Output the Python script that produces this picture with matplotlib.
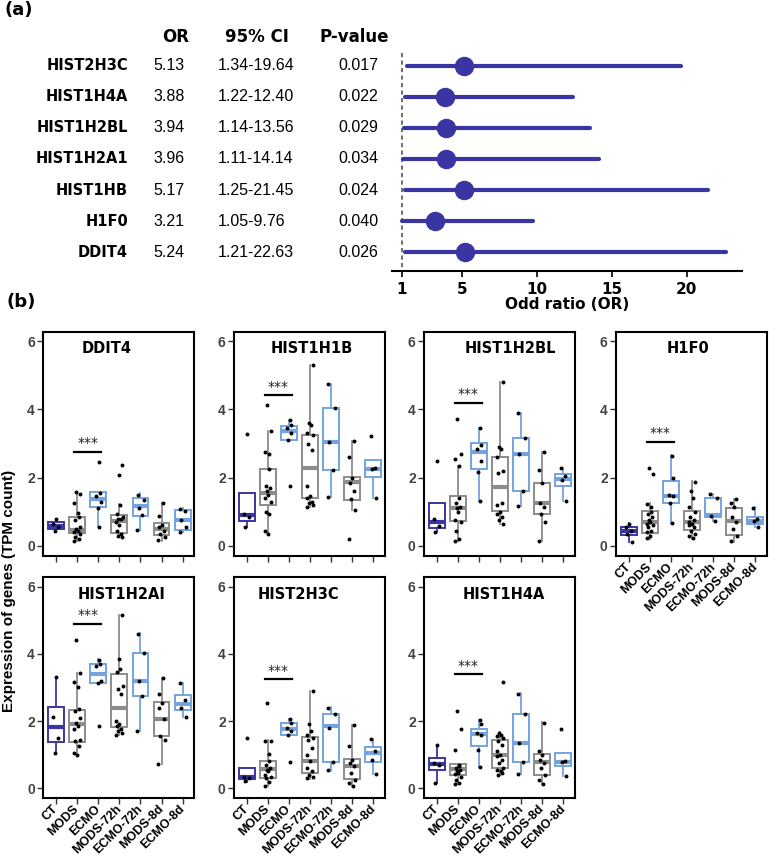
import matplotlib
matplotlib.use('Agg')
import matplotlib.pyplot as plt
from matplotlib import transforms

plt.rcParams['font.family'] = ['Liberation Sans', 'DejaVu Sans']

# ---------------- (a) forest plot data ----------------
genes_a = ['HIST2H3C', 'HIST1H4A', 'HIST1H2BL', 'HIST1H2A1', 'HIST1HB', 'H1F0', 'DDIT4']
or_vals = [5.13, 3.88, 3.94, 3.96, 5.17, 3.21, 5.24]
ci_low = [1.34, 1.22, 1.14, 1.11, 1.25, 1.05, 1.21]
ci_high = [19.64, 12.40, 13.56, 14.14, 21.45, 9.76, 22.63]
p_vals = ['0.017', '0.022', '0.029', '0.034', '0.024', '0.040', '0.026']
or_ticks = [1, 5, 10, 15, 20]

# ---------------- (b) box plot data ----------------
groups = ['CT', 'MODS', 'ECMO', 'MODS-72h', 'ECMO-72h', 'MODS-8d', 'ECMO-8d']
genes_b = ['DDIT4', 'HIST1H1B', 'HIST1H2BL', 'H1F0', 'HIST1H2AI', 'HIST2H3C', 'HIST1H4A']

# (whislo, q1, median, q3, whishi) per group
ddit4_box = [(0.43, 0.49, 0.59, 0.71, 0.78), (0.14, 0.39, 0.48, 0.85, 1.59), (0.56, 1.13, 1.39, 1.57, 1.57),
             (0.26, 0.39, 0.73, 0.90, 1.22), (0.48, 0.89, 1.17, 1.42, 1.54), (0.14, 0.33, 0.49, 0.66, 1.27),
             (0.41, 0.46, 0.77, 1.05, 1.10)]
ddit4_pts = [[0.78, 0.65, 0.55, 0.45],
             [1.58, 1.52, 1.25, 0.97, 0.85, 0.75, 0.55, 0.50, 0.45, 0.42, 0.35, 0.25, 0.20, 0.14],
             [2.47, 1.55, 1.45, 1.30, 1.10, 0.56],
             [2.37, 2.08, 1.20, 0.95, 0.85, 0.80, 0.78, 0.70, 0.60, 0.45, 0.35, 0.30, 0.27],
             [1.50, 1.35, 1.12, 0.92, 0.48],
             [1.27, 0.88, 0.62, 0.55, 0.45, 0.35, 0.25, 0.17],
             [1.07, 1.02, 0.75, 0.55, 0.41]]

hist1h1b_box = [(0.56, 0.74, 0.90, 1.54, 1.54), (0.36, 1.19, 1.56, 2.25, 3.38), (3.11, 3.11, 3.36, 3.52, 3.70),
                (1.13, 1.41, 2.29, 3.25, 5.31), (1.44, 2.23, 3.06, 4.04, 4.75), (1.05, 1.36, 1.88, 2.01, 3.09),
                (1.42, 2.03, 2.27, 2.52, 2.52)]
hist1h1b_pts = [[3.27, 0.95, 0.85, 0.55],
                [4.13, 3.38, 2.75, 2.70, 2.25, 1.75, 1.70, 1.60, 1.50, 1.40, 1.30, 1.00, 0.95, 0.45, 0.36],
                [3.68, 3.55, 3.45, 3.30, 3.10, 1.75],
                [5.30, 3.60, 3.55, 3.30, 3.25, 3.00, 2.80, 1.75, 1.45, 1.40, 1.30, 1.25, 1.20, 1.15],
                [4.75, 4.04, 3.06, 2.23, 1.44],
                [3.08, 2.62, 2.00, 1.85, 1.60, 1.38, 1.05, 0.20],
                [3.22, 2.28, 2.25, 1.42]]

hist1h2bl_box = [(0.41, 0.53, 0.69, 1.25, 1.25), (0.14, 0.74, 1.12, 1.47, 2.34), (1.31, 2.26, 2.74, 3.01, 3.45),
                 (0.63, 1.01, 1.74, 2.60, 4.80), (1.17, 1.62, 2.70, 3.16, 3.89), (0.15, 0.94, 1.27, 1.85, 2.76),
                 (1.31, 1.77, 1.95, 2.12, 2.29)]
hist1h2bl_pts = [[2.50, 0.80, 0.58, 0.41],
                 [3.72, 2.70, 2.55, 2.35, 1.42, 1.25, 1.15, 1.10, 1.00, 0.75, 0.70, 0.45, 0.20, 0.14],
                 [3.45, 2.95, 2.85, 2.50, 2.18, 1.31],
                 [4.80, 2.90, 2.85, 2.60, 2.20, 2.15, 1.25, 1.20, 1.00, 0.95, 0.85, 0.75, 0.63],
                 [3.89, 3.16, 2.70, 1.62, 1.17],
                 [2.76, 2.23, 1.85, 1.25, 1.15, 0.93, 0.70, 0.15],
                 [2.28, 2.05, 1.93, 1.31]]

h1f0_box = [(0.12, 0.33, 0.45, 0.56, 0.66), (0.19, 0.39, 0.69, 1.01, 1.25), (0.68, 1.27, 1.46, 1.89, 2.67),
            (0.19, 0.48, 0.71, 1.03, 1.90), (0.73, 0.85, 0.90, 1.41, 1.53), (0.12, 0.33, 0.73, 1.11, 1.38),
            (0.56, 0.64, 0.74, 0.85, 1.15)]
h1f0_pts = [[0.65, 0.55, 0.45, 0.35, 0.12],
            [2.28, 2.12, 1.22, 1.15, 1.00, 0.95, 0.85, 0.75, 0.70, 0.65, 0.60, 0.55, 0.45, 0.40, 0.30, 0.22],
            [2.65, 2.00, 1.50, 1.45, 1.25, 0.68],
            [1.88, 1.60, 1.42, 1.15, 1.00, 0.85, 0.75, 0.70, 0.65, 0.60, 0.55, 0.45, 0.35, 0.30, 0.22],
            [1.53, 1.42, 0.88, 0.73],
            [1.37, 1.25, 1.15, 0.85, 0.70, 0.50, 0.30, 0.15],
            [1.12, 0.80, 0.72, 0.56]]

hist1h2ai_box = [(1.04, 1.38, 1.81, 2.42, 3.31), (0.99, 1.37, 1.91, 2.34, 3.44), (3.13, 3.13, 3.41, 3.69, 3.85),
                 (1.58, 1.83, 2.40, 3.41, 5.17), (1.71, 2.74, 3.19, 4.03, 4.62), (0.72, 1.55, 2.06, 2.56, 3.29),
                 (2.12, 2.32, 2.52, 2.77, 3.13)]
hist1h2ai_pts = [[3.30, 2.12, 1.50, 1.04],
                 [4.40, 3.42, 3.15, 3.00, 2.35, 2.30, 2.10, 1.95, 1.85, 1.75, 1.45, 1.40, 1.25, 1.05, 1.00],
                 [3.83, 3.70, 3.65, 3.20, 3.13, 1.86],
                 [5.15, 3.85, 3.55, 3.45, 3.05, 2.95, 2.80, 2.00, 1.90, 1.85, 1.75, 1.70, 1.65, 1.60],
                 [4.60, 4.03, 3.20, 2.75, 1.71],
                 [3.28, 2.80, 2.55, 2.40, 2.05, 1.55, 1.45, 0.72],
                 [3.13, 2.62, 2.40, 2.12]]

hist2h3c_box = [(0.20, 0.27, 0.35, 0.61, 0.61), (0.07, 0.32, 0.56, 0.80, 1.43), (1.60, 1.60, 1.76, 1.93, 2.07),
                (0.28, 0.47, 0.82, 1.53, 2.91), (0.52, 0.77, 1.84, 2.20, 2.42), (0.07, 0.27, 0.67, 0.87, 1.88),
                (0.44, 0.77, 1.04, 1.22, 1.48)]
hist2h3c_pts = [[1.50, 0.35, 0.30, 0.22],
                [2.55, 1.42, 1.40, 1.02, 0.80, 0.70, 0.60, 0.55, 0.50, 0.40, 0.35, 0.30, 0.20, 0.07],
                [2.05, 1.95, 1.80, 1.70, 1.60, 0.77],
                [2.90, 1.92, 1.70, 1.60, 1.50, 1.45, 1.20, 1.00, 0.80, 0.60, 0.50, 0.40, 0.35, 0.30],
                [2.40, 2.20, 1.80, 0.78, 0.55],
                [1.87, 1.25, 0.85, 0.75, 0.65, 0.45, 0.25, 0.15, 0.07],
                [1.48, 1.12, 0.85, 0.44]]

hist1h4a_box = [(0.17, 0.54, 0.72, 0.91, 1.30), (0.12, 0.41, 0.56, 0.71, 0.71), (0.64, 1.25, 1.63, 1.76, 2.03),
                (0.40, 0.61, 0.99, 1.44, 1.68), (0.42, 0.79, 1.36, 2.22, 2.84), (0.12, 0.40, 0.77, 1.02, 1.96),
                (0.37, 0.66, 0.79, 1.04, 1.04)]
hist1h4a_pts = [[1.30, 0.75, 0.70, 0.17],
                [2.30, 1.75, 1.13, 0.70, 0.65, 0.60, 0.55, 0.50, 0.45, 0.42, 0.35, 0.25, 0.15, 0.12],
                [2.02, 1.90, 1.65, 1.60, 1.15, 0.64],
                [3.17, 1.65, 1.60, 1.55, 1.50, 1.40, 1.30, 1.10, 1.00, 0.95, 0.85, 0.75, 0.60, 0.55, 0.50, 0.45, 0.40],
                [2.80, 2.20, 1.36, 0.78, 0.42],
                [1.93, 1.12, 1.00, 0.85, 0.75, 0.60, 0.40, 0.25, 0.12],
                [1.77, 0.80, 0.78, 0.37]]

sig_heights = [2.76, 4.41, 4.20, 3.06, 4.90, 3.24, 3.39]
y_ticks = [0, 2, 4, 6]

box_data = [ddit4_box, hist1h1b_box, hist1h2bl_box, h1f0_box, hist1h2ai_box, hist2h3c_box, hist1h4a_box]
pts_data = [ddit4_pts, hist1h1b_pts, hist1h2bl_pts, h1f0_pts, hist1h2ai_pts, hist2h3c_pts, hist1h4a_pts]

# ---------------- styling ----------------
W, H = 777, 859
PURPLE = '#3b35a3'
GRAY = '#8c8c8c'
LBLUE = '#74a3de'
HEAVY = ['DejaVu Sans']
group_colors = [PURPLE, GRAY, LBLUE, GRAY, LBLUE, GRAY, LBLUE]
jitter = [0.0, -0.12, 0.10, -0.06, 0.14, -0.15, 0.05, 0.08, -0.10, 0.12, -0.03, 0.03, -0.13, 0.16, -0.08, 0.07, -0.14]

fig = plt.figure(figsize=(W / 100, H / 100), dpi=100)


def px_axes(l, t, r, b):
    return fig.add_axes([l / W, 1 - b / H, (r - l) / W, (b - t) / H])


# ---------------- (a) ----------------
fig.text(4 / W, 1 - 10 / H, '(a)', fontsize=13, fontweight='bold', family=HEAVY, ha='left', va='center')

axf = px_axes(392, 50, 742, 270.7)
rows = list(range(len(genes_a)))
for i in rows:
    axf.plot([ci_low[i], ci_high[i]], [i, i], color=PURPLE, lw=3.0, solid_capstyle='round', zorder=2)
    axf.plot(or_vals[i], i, 'o', color=PURPLE, markersize=13, zorder=3)
axf.plot([1, 1], [-0.4, 6.59], color='#555555', lw=1.2, ls=(0, (2.5, 2)), zorder=1)
axf.set_ylim(6.59, -0.5)
axf.set_xlim(0.35, 23.7)
for s in ['left', 'right', 'top']:
    axf.spines[s].set_visible(False)
axf.spines['bottom'].set_linewidth(1.5)
axf.set_yticks([])
axf.set_xticks(or_ticks)
axf.set_xticklabels([str(t) for t in or_ticks], fontweight='bold', fontsize=11, family=HEAVY)
axf.tick_params(axis='x', length=4, width=1.2, pad=4)
axf.set_xlabel('Odd ratio (OR)', fontweight='bold', fontsize=11, family=HEAVY, labelpad=0)

tr = transforms.blended_transform_factory(fig.transFigure, axf.transData)
fig.text(176 / W, 1 - 37 / H, 'OR', fontsize=12, fontweight='bold', family=HEAVY, ha='center', va='center')
fig.text(257 / W, 1 - 37 / H, '95% CI', fontsize=12, fontweight='bold', family=HEAVY, ha='center', va='center')
fig.text(354 / W, 1 - 37 / H, 'P-value', fontsize=12, fontweight='bold', family=HEAVY, ha='center', va='center')
for i in rows:
    fig.text(128 / W, i, genes_a[i], transform=tr, fontsize=10.5, fontweight='bold', family=HEAVY,
             ha='right', va='center')
    fig.text(153 / W, i, '%.2f' % or_vals[i], transform=tr, fontsize=11.5, ha='left', va='center')
    fig.text(218 / W, i, '%.2f-%.2f' % (ci_low[i], ci_high[i]), transform=tr, fontsize=11.5, ha='left', va='center')
    fig.text(338 / W, i, p_vals[i], transform=tr, fontsize=11.5, ha='left', va='center')

# ---------------- (b) ----------------
fig.text(6 / W, 1 - 302 / H, '(b)', fontsize=13, fontweight='bold', family=HEAVY, ha='left', va='center')
fig.text(9 / W, 1 - 591 / H, 'Expression of genes (TPM count)', fontsize=11, fontweight='bold',
         rotation=90, ha='center', va='center')

col_left = [43.3, 234, 424, 616]
pw = 151
rect_rows = [(331.7, 555.5), (577.3, 797.7)]
panel_pos = [(0, 0), (0, 1), (0, 2), (0, 3), (1, 0), (1, 1), (1, 2)]
title_x = [2.4, 3.1, 3.5, 2.83, 3.1, 2.46, 3.17]
show_xlabels = [False, False, False, True, True, True, True]

for k, gene in enumerate(genes_b):
    r, c = panel_pos[k]
    t, b = rect_rows[r]
    ax = px_axes(col_left[c], t, col_left[c] + pw, b)
    stats = []
    for (wl, q1, med, q3, wh) in box_data[k]:
        stats.append(dict(whislo=wl, q1=q1, med=med, q3=q3, whishi=wh, fliers=[]))
    bp = ax.bxp(stats, positions=list(range(len(groups))), widths=0.75, showfliers=False,
                showcaps=False, patch_artist=True)
    for g, col in enumerate(group_colors):
        bp['boxes'][g].set_facecolor('white')
        bp['boxes'][g].set_edgecolor(col)
        bp['boxes'][g].set_linewidth(1.4)
        bp['medians'][g].set_color(col)
        bp['medians'][g].set_linewidth(3.0)
        for wsk in bp['whiskers'][2 * g:2 * g + 2]:
            wsk.set_color(col)
            wsk.set_linewidth(1.3)
    for g, pts in enumerate(pts_data[k]):
        xs = [g + jitter[(j + 3 * g) % len(jitter)] for j in range(len(pts))]
        ax.scatter(xs, pts, s=8, color='black', zorder=4, linewidths=0)
    # significance bar
    h = sig_heights[k]
    ax.plot([0.87, 2.13], [h, h], color='black', lw=1.6)
    ax.text(1.5, h + 0.04, '***', ha='center', va='bottom', fontsize=10, family=HEAVY, color='#222222')
    ax.text(title_x[k], 5.78, gene, ha='center', va='center', fontsize=10.5, fontweight='bold', family=HEAVY)
    ax.set_xlim(-0.6, 6.55)
    ax.set_ylim(-0.28, 6.28)
    ax.set_yticks(y_ticks)
    ax.set_yticklabels([str(v) for v in y_ticks], fontweight='bold', fontsize=10, color='#444444')
    ax.set_xticks(list(range(len(groups))))
    if show_xlabels[k]:
        ax.set_xticklabels(groups, rotation=45, ha='right', va='center', rotation_mode='anchor',
                           fontweight='bold', fontsize=9)
    else:
        ax.set_xticklabels([])
    ax.tick_params(axis='both', length=4, width=1.0, color='#333333', pad=2)
    ax.tick_params(axis='x', pad=3)
    for s in ax.spines.values():
        s.set_linewidth(1.5)

fig.savefig('out.png', dpi=100)
